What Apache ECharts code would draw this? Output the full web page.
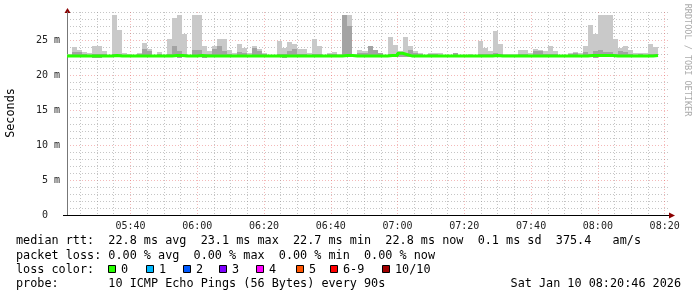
<!DOCTYPE html>
<html><head><meta charset="utf-8">
<script src="https://cdn.jsdelivr.net/npm/echarts@6/dist/echarts.min.js"></script>
<style>html,body{margin:0;padding:0;background:#fff}#c{width:697px;height:297px}</style>
</head><body><div id="c"></div>
<script>
// time axis in minutes after 05:00
const startMinute = 21;
const endMinute = 201;
const stepMinutes = 1.5;

// smoke: max ping per 90 s step (ms)
const smokeMax = [
  23.0, 24.0, 23.6, 23.3, 23.1, 24.1, 24.1, 23.4, 22.9, 28.6,
  26.4, 23.1, 23.0, 22.9, 23.1, 24.6, 23.7, 22.9, 23.3, 22.9,
  25.1, 28.2, 28.6, 25.8, 22.9, 28.6, 28.6, 24.1, 23.4, 24.2,
  25.1, 25.1, 23.6, 23.1, 24.4, 23.9, 23.1, 24.2, 23.7, 23.2,
  22.9, 22.9, 24.9, 23.9, 24.7, 24.5, 23.7, 23.7, 23.1, 25.1,
  24.1, 22.9, 23.2, 23.3, 23.0, 28.6, 28.6, 23.0, 23.6, 23.4,
  24.2, 23.6, 23.2, 22.9, 25.5, 24.3, 23.4, 25.5, 24.2, 23.4,
  23.2, 22.9, 23.2, 23.2, 23.1, 22.9, 22.9, 23.2, 22.9, 22.9,
  23.0, 22.9, 24.9, 23.8, 23.5, 26.3, 24.5, 23.0, 23.0, 23.0,
  23.6, 23.6, 23.1, 23.7, 23.6, 23.4, 24.1, 23.5, 22.9, 22.9,
  23.1, 23.3, 23.1, 24.2, 27.1, 25.9, 28.6, 28.6, 28.6, 25.1,
  23.8, 24.2, 23.6, 23.1, 23.2, 23.1, 24.5, 24.0
];
// smoke: upper edge of the denser (darker) band
const smokeMid = [
  22.9, 23.3, 23.3, 23.0, 22.9, 23.0, 23.0, 23.0, 22.9, 23.0,
  23.0, 22.9, 22.9, 22.9, 23.0, 23.7, 23.4, 22.9, 23.0, 22.9,
  23.0, 24.2, 23.5, 23.0, 22.9, 23.6, 23.6, 23.0, 23.0, 23.7,
  24.2, 23.5, 23.0, 22.9, 23.3, 23.2, 22.9, 23.9, 23.4, 23.0,
  22.9, 22.9, 23.0, 23.0, 23.4, 23.7, 23.0, 23.0, 22.9, 23.0,
  23.0, 22.9, 23.0, 23.0, 22.9, 28.6, 27.0, 22.9, 23.2, 23.2,
  24.2, 23.6, 23.2, 22.9, 23.0, 23.0, 23.3, 23.0, 23.6, 23.2,
  23.0, 22.9, 23.0, 23.0, 22.9, 22.9, 22.9, 23.2, 22.9, 22.9,
  22.9, 22.9, 23.0, 23.0, 23.0, 23.2, 23.0, 22.9, 22.9, 22.9,
  23.0, 23.0, 22.9, 23.4, 23.4, 23.0, 23.0, 23.0, 22.9, 22.9,
  23.0, 23.2, 22.9, 23.3, 23.0, 23.5, 23.6, 23.3, 23.3, 23.0,
  23.4, 23.3, 23.0, 22.9, 23.0, 22.9, 23.0, 23.0
];
// smoke: min ping per step
const smokeMin = [
  22.6, 22.6, 22.6, 22.6, 22.6, 22.4, 22.4, 22.6, 22.6, 22.6,
  22.6, 22.6, 22.6, 22.6, 22.6, 22.6, 22.6, 22.6, 22.6, 22.6,
  22.6, 22.6, 22.5, 22.6, 22.6, 22.6, 22.6, 22.5, 22.6, 22.6,
  22.6, 22.6, 22.6, 22.6, 22.6, 22.6, 22.6, 22.6, 22.6, 22.6,
  22.6, 22.6, 22.6, 22.5, 22.6, 22.6, 22.6, 22.6, 22.6, 22.6,
  22.6, 22.6, 22.6, 22.6, 22.6, 22.6, 22.6, 22.6, 22.6, 22.6,
  22.6, 22.6, 22.6, 22.6, 22.6, 22.6, 22.6, 22.6, 22.6, 22.6,
  22.6, 22.6, 22.6, 22.6, 22.6, 22.6, 22.6, 22.6, 22.6, 22.6,
  22.6, 22.6, 22.6, 22.6, 22.6, 22.6, 22.6, 22.6, 22.6, 22.6,
  22.6, 22.6, 22.6, 22.6, 22.6, 22.6, 22.6, 22.6, 22.6, 22.6,
  22.6, 22.6, 22.6, 22.6, 22.6, 22.5, 22.6, 22.6, 22.6, 22.6,
  22.6, 22.6, 22.6, 22.6, 22.6, 22.6, 22.6, 22.6
];
// median rtt per step
const medianRtt = [
  22.7, 22.7, 22.7, 22.7, 22.7, 22.7, 22.7, 22.7, 22.7, 22.8,
  22.7, 22.7, 22.7, 22.7, 22.7, 22.7, 22.7, 22.7, 22.7, 22.7,
  22.7, 22.8, 22.8, 22.7, 22.7, 22.7, 22.8, 22.7, 22.7, 22.7,
  22.7, 22.7, 22.7, 22.7, 22.7, 22.7, 22.7, 22.7, 22.7, 22.7,
  22.7, 22.7, 22.7, 22.7, 22.7, 22.7, 22.7, 22.7, 22.7, 22.7,
  22.7, 22.7, 22.7, 22.7, 22.7, 22.8, 22.8, 22.7, 22.7, 22.7,
  22.7, 22.7, 22.7, 22.7, 22.8, 22.8, 23.1, 22.9, 22.7, 22.7,
  22.7, 22.7, 22.7, 22.7, 22.7, 22.7, 22.7, 22.7, 22.7, 22.7,
  22.7, 22.7, 22.7, 22.7, 22.7, 22.8, 22.7, 22.7, 22.7, 22.7,
  22.7, 22.7, 22.7, 22.7, 22.7, 22.7, 22.7, 22.7, 22.7, 22.7,
  22.7, 22.7, 22.7, 22.7, 22.8, 22.8, 22.8, 22.8, 22.8, 22.7,
  22.7, 22.7, 22.7, 22.7, 22.7, 22.7, 22.7, 22.8
];

const yMajorTicks = [0, 5, 10, 15, 20, 25];
const xMajorTickLabels = ['05:40', '06:00', '06:20', '06:40', '07:00', '07:20', '07:40', '08:00', '08:20'];

const legendLines = [
  'median rtt:  22.8 ms avg  23.1 ms max  22.7 ms min  22.8 ms now  0.1 ms sd  375.4   am/s',
  'packet loss: 0.00 % avg  0.00 % max  0.00 % min  0.00 % now'
];
const lossColorLabels = ['0', '1', '2', '3', '4', '5', '6-9', '10/10'];
const lossColors = ['#26ff00', '#00b8ff', '#0059ff', '#7e00ff', '#ff00ff', '#ff5500', '#ff0000', '#a10000'];
const probeText = 'probe:       10 ICMP Echo Pings (56 Bytes) every 90s';
const dateText = 'Sat Jan 10 08:20:46 2026';

const MONO = '"DejaVu Sans Mono", monospace';
const MAJOR = 'rgba(225,70,70,0.38)';
const MINOR = 'rgba(140,140,140,0.5)';
const NONE = 'rgba(0,0,0,0)';

function fmtMinute(v) {
  const h = 5 + Math.floor(v / 60), m = v % 60;
  return String(h).padStart(2, '0') + ':' + String(m).padStart(2, '0');
}

// split line colours, cycling per 1-minute tick starting at startMinute
const xLineColors = [];
for (let j = 0; j < 20; j++) {
  const v = startMinute + j;
  xLineColors.push(v % 20 === 0 ? MAJOR : (v % 5 === 0 ? MINOR : NONE));
}
const yLineColors = [MAJOR, MINOR, MINOR, MINOR, MINOR];

const smokeData = smokeMax.map((mx, k) => [startMinute + k * stepMinutes, smokeMin[k], smokeMid[k], mx]);
const medianData = medianRtt.map((v, k) => [startMinute + k * stepMinutes, v]);
medianData.push([startMinute + medianRtt.length * stepMinutes, medianRtt[medianRtt.length - 1]]);

const chart = echarts.init(document.getElementById('c'), null, { renderer: 'canvas' });

const option = {
  animation: false,
  backgroundColor: '#ffffff',
  grid: { left: 67, right: 29, top: 12, bottom: 82, containLabel: false },
  xAxis: {
    type: 'value', min: startMinute, max: endMinute, interval: 1,
    axisLine: { show: true, onZero: false, lineStyle: { color: '#000', width: 1 } },
    axisTick: { show: false },
    axisLabel: {
      margin: 6, fontFamily: MONO, fontSize: 10, color: '#222',
      formatter: v => {
        const s = fmtMinute(v);
        return (v % 20 === 0 && xMajorTickLabels.indexOf(s) >= 0) ? s : '';
      }
    },
    splitLine: { show: true, lineStyle: { color: xLineColors, width: 1, type: [1, 2] } }
  },
  yAxis: {
    type: 'value', min: 0, max: 29, interval: 1,
    axisLine: { show: true, lineStyle: { color: '#777', width: 1 } },
    axisTick: { show: false },
    axisLabel: {
      margin: 7, fontFamily: MONO, fontSize: 10, color: '#222',
      formatter: v => yMajorTicks.indexOf(v) < 0 ? '' : (v === 0 ? '0  ' : v + ' m')
    },
    splitLine: { show: true, lineStyle: { color: yLineColors, width: 1, type: [1, 2] } }
  },
  series: [
    {
      type: 'custom', silent: true, clip: true, z: 2,
      encode: { x: 0, y: [1, 2, 3] },
      data: smokeData,
      renderItem: (params, api) => {
        const x0 = api.value(0), x1 = x0 + stepMinutes;
        const a = api.coord([x0, api.value(1)]);
        const b = api.coord([x1, api.value(2)]);
        const c = api.coord([x1, api.value(3)]);
        const l = Math.round(a[0]), r = Math.round(b[0]);
        const yMin = Math.round(a[1]), yMid = Math.round(b[1]), yMax = Math.round(c[1]);
        return {
          type: 'group',
          children: [
            { type: 'rect', shape: { x: l, y: yMax, width: r - l, height: yMid - yMax }, style: { fill: '#c9c9c9' } },
            { type: 'rect', shape: { x: l, y: yMid, width: r - l, height: yMin - yMid }, style: { fill: '#a3a3a3' } }
          ]
        };
      }
    },
    {
      type: 'line', step: 'end', data: medianData, showSymbol: false, silent: true, z: 3,
      lineStyle: { color: '#26ff00', width: 3 }
    }
  ]
};
chart.setOption(option);

// decorations that follow the grid
const pTopLeft = chart.convertToPixel({ gridIndex: 0 }, [startMinute, 29]);
const pBotLeft = chart.convertToPixel({ gridIndex: 0 }, [startMinute, 0]);
const pBotRight = chart.convertToPixel({ gridIndex: 0 }, [endMinute, 0]);
const ax = pTopLeft[0], ayTop = pTopLeft[1], ayBot = pBotLeft[1], axRight = pBotRight[0];

const graphics = [];
graphics.push({ type: 'line', shape: { x1: ax + 0.5, y1: ayTop, x2: ax + 0.5, y2: ayTop - 3 }, style: { stroke: '#777', lineWidth: 1 } });
graphics.push({ type: 'polygon', shape: { points: [[ax - 2.5, ayTop + 1], [ax + 3.5, ayTop + 1], [ax + 0.5, ayTop - 4]] }, style: { fill: '#8b0000' } });
graphics.push({ type: 'line', shape: { x1: ax - 4, y1: ayBot + 0.5, x2: axRight + 3, y2: ayBot + 0.5 }, style: { stroke: '#000', lineWidth: 1 } });
graphics.push({ type: 'polygon', shape: { points: [[axRight + 1, ayBot - 2.5], [axRight + 1, ayBot + 3.5], [axRight + 7, ayBot + 0.5]] }, style: { fill: '#8b0000' } });

graphics.push({ type: 'text', x: 11, y: 113, rotation: Math.PI / 2,
  style: { text: 'Seconds', font: '11.8px ' + MONO, fill: '#000', textAlign: 'center', textVerticalAlign: 'middle' } });
graphics.push({ type: 'text', x: 687, y: 60, rotation: -Math.PI / 2,
  style: { text: 'RRDTOOL / TOBI OETIKER', font: '8.5px ' + MONO, fill: '#aaaaaa', textAlign: 'center', textVerticalAlign: 'middle' } });

const legendY = [241, 255.5];
legendLines.forEach((t, i) => {
  graphics.push({ type: 'text', x: 16, y: legendY[i],
    style: { text: t, font: '11.8px ' + MONO, fill: '#000', textAlign: 'left', textVerticalAlign: 'middle' } });
});
graphics.push({ type: 'text', x: 16, y: 269.5,
  style: { text: 'loss color:', font: '11.8px ' + MONO, fill: '#000', textAlign: 'left', textVerticalAlign: 'middle' } });
const boxX = [108, 146, 183, 219, 256, 296, 330, 382];
lossColorLabels.forEach((lab, i) => {
  graphics.push({ type: 'rect', shape: { x: boxX[i] + 0.5, y: 265.5, width: 7, height: 7 },
    style: { fill: lossColors[i], stroke: '#000', lineWidth: 1 } });
  graphics.push({ type: 'text', x: boxX[i] + 13, y: 269.5,
    style: { text: lab, font: '11.8px ' + MONO, fill: '#000', textAlign: 'left', textVerticalAlign: 'middle' } });
});
graphics.push({ type: 'text', x: 16, y: 283.5,
  style: { text: probeText, font: '11.8px ' + MONO, fill: '#000', textAlign: 'left', textVerticalAlign: 'middle' } });
graphics.push({ type: 'text', x: 681, y: 283.5,
  style: { text: dateText, font: '11.8px ' + MONO, fill: '#000', textAlign: 'right', textVerticalAlign: 'middle' } });

chart.setOption({ graphic: { elements: graphics } });
</script>
</body></html>
